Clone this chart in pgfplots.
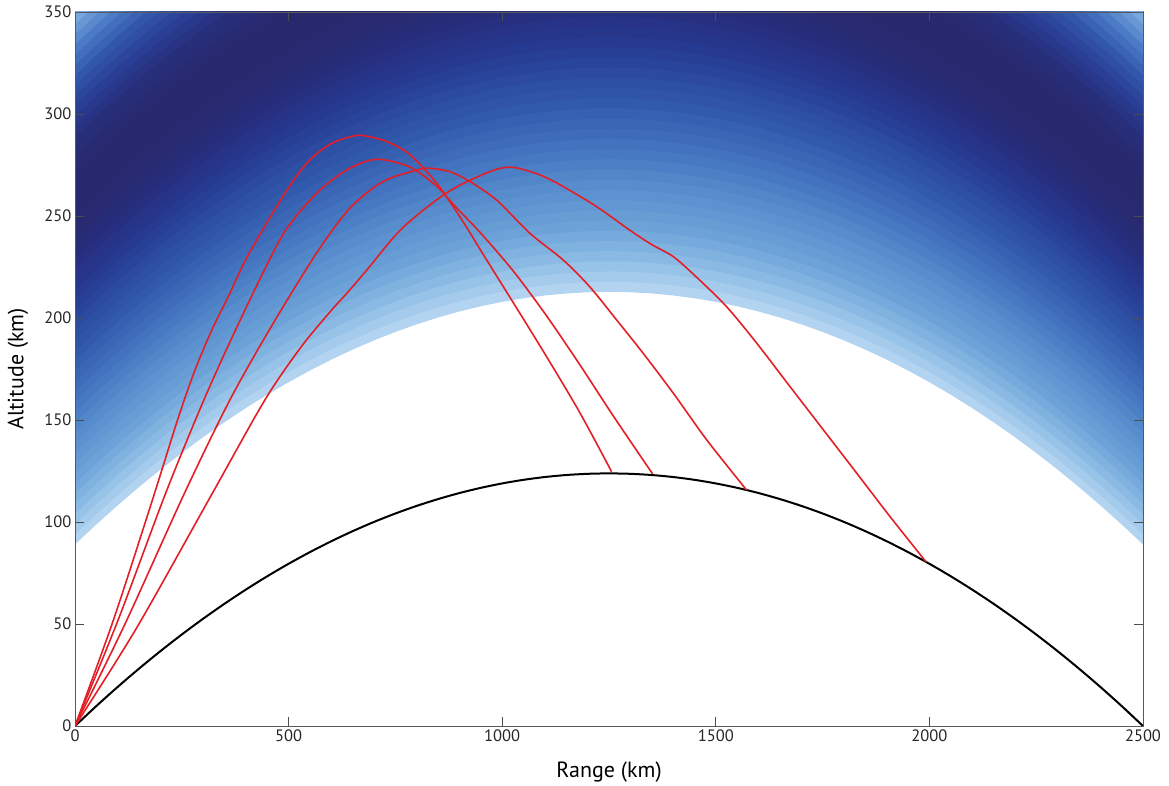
\documentclass[border=0pt]{standalone}
\usepackage{pgfplots}
\pgfplotsset{compat=1.18}
\usepackage{pgfplotstable}
\usepackage{fontspec}
\setmainfont{PT Sans}

\definecolor{s0}{RGB}{178,212,240}
\definecolor{s1}{RGB}{138,186,228}
\definecolor{s2}{RGB}{108,162,216}
\definecolor{s3}{RGB}{92,146,208}
\definecolor{s4}{RGB}{76,128,198}
\definecolor{s5}{RGB}{62,108,186}
\definecolor{s6}{RGB}{50,90,172}
\definecolor{s7}{RGB}{43,74,160}
\definecolor{s8}{RGB}{38,58,145}
\definecolor{s9}{RGB}{38,47,128}
\definecolor{s10}{RGB}{40,42,114}
\definecolor{s11}{RGB}{40,40,108}
\definecolor{s12}{RGB}{40,41,110}
\definecolor{s13}{RGB}{39,47,122}
\definecolor{s14}{RGB}{41,62,148}
\definecolor{s15}{RGB}{50,86,172}
\definecolor{s16}{RGB}{75,122,198}
\definecolor{s17}{RGB}{120,166,222}
\definecolor{s18}{RGB}{150,190,232}
\definecolor{ray}{RGB}{228,30,38}

\pgfplotstableread{
x y
0 0
50 9.80
100 19.18
150 28.15
200 36.71
250 44.86
300 52.60
350 59.94
400 66.87
450 73.40
500 79.53
550 85.25
600 90.58
650 95.51
700 100.04
750 104.17
800 107.91
850 111.25
900 114.20
950 116.75
1000 118.91
1050 120.68
1100 122.05
1150 123.03
1200 123.62
1250 123.82
1300 123.62
1350 123.03
1400 122.05
1450 120.68
1500 118.91
1550 116.75
1600 114.20
1650 111.25
1700 107.91
1750 104.17
1800 100.04
1850 95.51
1900 90.58
1950 85.25
2000 79.53
2050 73.40
2100 66.87
2150 59.94
2200 52.60
2250 44.86
2300 36.71
2350 28.15
2400 19.18
2450 9.80
2500 0
}\earth

\pgfplotstableread{
x y
0 0
90 52
180 110
240 150
280 174
320 194
360 211
403 230
473 255
520 270
557 279
600 285.5
640 288.6
672 289.5
730 286.5
784 280
847 266
909 247
956 231
1026 207.5
1104 181
1182 153.5
1256 124.7
}\rayA

\pgfplotstableread{
x y
0 0
101 52
212 114
300 159
371 192
449 226
490 242
534 254
580 264
628 271.5
670 276
714 277.8
784 274
847 264.5
893 254
948 242
1026 223
1104 201
1182 177
1260 152
1352 123.6
}\rayB

\pgfplotstableread{
x y
0 0
117 50
256 114
363 160
460 196
566 232
644 254
722 267
800 272.5
830 273.4
878 271.7
925 266.8
987 257.8
1065 241.5
1143 228.4
1205 215.3
1268 199
1330 182.7
1401 163
1479 140.2
1572 115.7
}\rayC

\pgfplotstableread{
x y
0 0
144 48
316 112
445 160
530 186
597 203
640 213
683 223.5
761 243
847 258
909 266
987 272.9
1030 273.7
1090 270
1143 264.4
1221 254.6
1299 243
1350 236
1401 230
1455 220
1525 205.6
1596 187.6
1674 166.3
1752 145.1
1830 123.9
1908 102.6
1992 80.5
}\rayD

\newcommand{\band}[2]{\addplot[draw=none,fill={#2},forget plot] table[x=x,y expr=\thisrow{y}+#1]{\earth} -- (axis cs:2500,520) -- (axis cs:0,520) -- cycle;}

\begin{document}
\begin{tikzpicture}
\begin{axis}[
  scale only axis,
  width=1068pt, height=714pt,
  xmin=0, xmax=2500, ymin=0, ymax=350,
  xtick={0,500,...,2500}, ytick={0,50,...,350},
  tick align=inside,
  major tick length=9pt,
  axis on top,
  axis line style={draw=black!65, line width=0.9pt},
  tick style={black!70, line width=0.9pt},
  /pgf/number format/assume math mode=true,
  /pgf/number format/1000 sep={},
  scaled ticks=false,
  tick label style={font=\fontsize{16.5}{16.5}\selectfont, text=black!85},
  label style={font=\fontsize{22}{22}\selectfont},
  xlabel={Range (km)}, ylabel={Altitude (km)},
  x label style={at={(axis description cs:0.5,-0.045)}, anchor=north},
  y label style={at={(axis description cs:-0.0405,0.5)}, anchor=south},
]
\band{89}{s0}
\band{94}{s0!67!s1}
\band{99}{s0!33!s1}
\band{104}{s1}
\band{109}{s1!67!s2}
\band{114}{s1!33!s2}
\band{119}{s2}
\band{124}{s2!67!s3}
\band{129}{s2!33!s3}
\band{134}{s3}
\band{139}{s3!67!s4}
\band{144}{s3!33!s4}
\band{149}{s4}
\band{154}{s4!67!s5}
\band{159}{s4!33!s5}
\band{164}{s5}
\band{169}{s5!67!s6}
\band{174}{s5!33!s6}
\band{179}{s6}
\band{184}{s6!67!s7}
\band{189}{s6!33!s7}
\band{194}{s7}
\band{199}{s7!67!s8}
\band{204}{s7!33!s8}
\band{209}{s8}
\band{214}{s8!67!s9}
\band{219}{s8!33!s9}
\band{224}{s9}
\band{229}{s9!67!s10}
\band{234}{s9!33!s10}
\band{239}{s10}
\band{244}{s10!67!s11}
\band{249}{s10!33!s11}
\band{254}{s11}
\band{259}{s11!67!s12}
\band{264}{s11!33!s12}
\band{269}{s12}
\band{274}{s12!67!s13}
\band{279}{s12!33!s13}
\band{284}{s13}
\band{289}{s13!67!s14}
\band{294}{s13!33!s14}
\band{299}{s14}
\band{304}{s14!67!s15}
\band{309}{s14!33!s15}
\band{314}{s15}
\band{319}{s15!67!s16}
\band{324}{s15!33!s16}
\band{329}{s16}
\band{334}{s16!67!s17}
\band{339}{s16!33!s17}
\band{344}{s17}
\band{349}{s17!67!s18}
\band{354}{s17!33!s18}
\band{359}{s18}

\addplot[black, line width=2pt, smooth] table[x=x,y=y]{\earth};
\addplot[ray, line width=1.6pt, smooth, tension=0.5] table[x=x,y=y]{\rayA};
\addplot[ray, line width=1.6pt, smooth, tension=0.5] table[x=x,y=y]{\rayB};
\addplot[ray, line width=1.6pt, smooth, tension=0.5] table[x=x,y=y]{\rayC};
\addplot[ray, line width=1.6pt, smooth, tension=0.5] table[x=x,y=y]{\rayD};
\end{axis}
\pgfresetboundingbox
\path[use as bounding box] (current axis.south west) ++(-75pt,-59pt) rectangle ([xshift=26pt,yshift=12pt]current axis.north east);
\end{tikzpicture}
\end{document}
